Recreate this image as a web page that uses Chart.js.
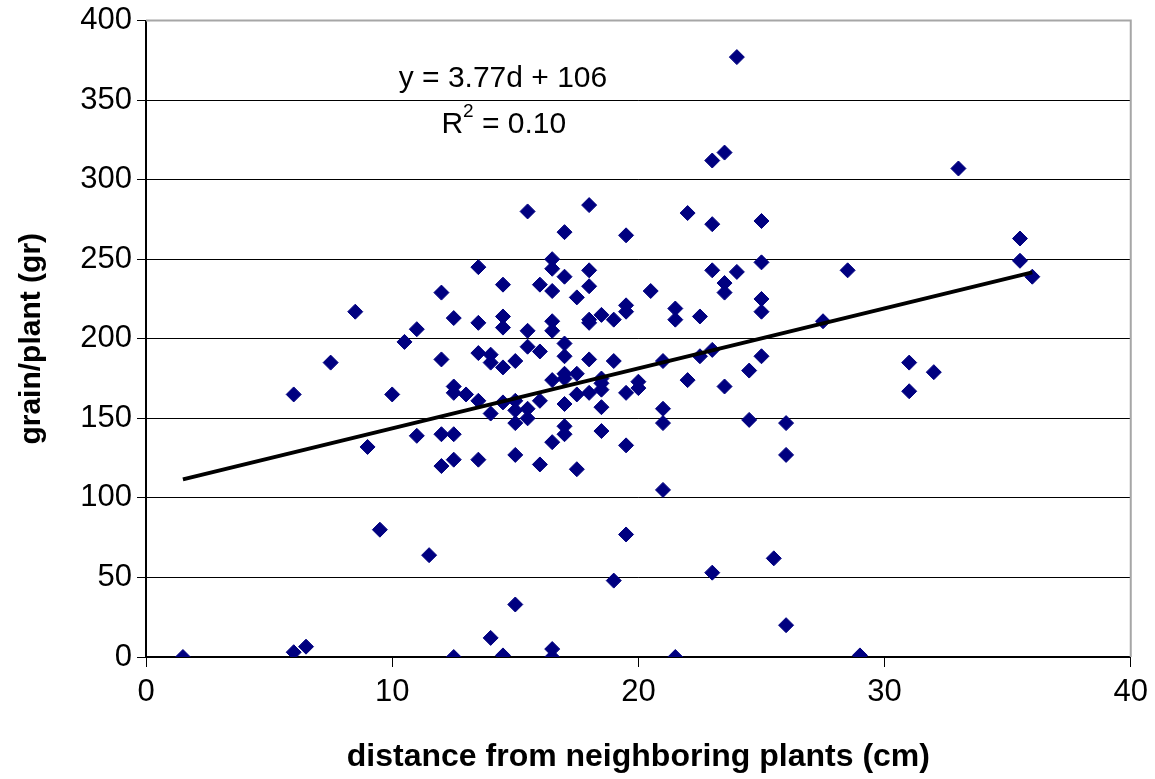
<!DOCTYPE html>
<html>
<head>
<meta charset="utf-8">
<title>grain/plant vs distance</title>
<script src="https://cdn.jsdelivr.net/npm/chart.js"></script>
<style>
    html, body { margin: 0; padding: 0; background: #ffffff; }
    canvas { display: block; }
</style>
</head>
<body>
<canvas id="scatterChart" width="1155" height="779"></canvas>
<script>
// Données : distance (cm) et grain/plant (gr), point par point
const distances = [
    1.5, 6, 6, 6.5, 7.5, 8.5, 9, 9.5, 10, 10.5,
    11, 11, 11.5, 12, 12, 12, 12,
    12.5, 12.5, 12.5, 12.5, 12.5, 12.5, 13,
    13.5, 13.5, 13.5, 13.5, 13.5, 14, 14, 14, 14,
    14.5, 14.5, 14.5, 14.5, 14.5, 14.5,
    15, 15, 15, 15, 15, 15, 15.5, 15.5, 15.5, 15.5, 15.5,
    16, 16, 16, 16,
    16.5, 16.5, 16.5, 16.5, 16.5, 16.5, 16.5, 16.5, 16.5,
    17, 17, 17, 17, 17, 17, 17, 17, 17,
    17.5, 17.5, 17.5, 17.5,
    18, 18, 18, 18, 18, 18, 18,
    18.5, 18.5, 18.5, 18.5, 18.5, 18.5,
    19, 19, 19, 19.5, 19.5, 19.5, 19.5, 19.5, 19.5,
    20, 20, 20.5, 21, 21, 21, 21, 21.5, 21.5, 21.5,
    22, 22, 22.5, 22.5, 23, 23, 23, 23, 23,
    23.5, 23.5, 23.5, 23.5, 24, 24, 24.5, 24.5,
    25, 25, 25, 25, 25, 25.5, 26, 26, 26,
    27.5, 28.5, 29, 31, 31, 32, 33, 35.5, 35.5, 36
];
const grains = [
    0, 3, 165, 6.5, 185, 217, 132, 80, 165, 198,
    206, 139, 64, 229, 187, 140, 120,
    213, 170, 166, 140, 124, 0, 165,
    245, 210, 191, 161, 124, 190, 185, 153, 12,
    234, 214, 207, 182, 160, 1,
    186, 161, 155, 147, 127, 33, 280, 205, 195, 156, 150,
    234, 192, 161, 121,
    250, 244, 230, 211, 205, 174, 135, 5, 0,
    267, 239, 197, 189, 178, 175, 159, 145, 140,
    226, 178, 165, 118,
    284, 243, 233, 212, 210, 187, 166,
    215, 175, 172, 168, 157, 142,
    212, 186, 48, 265, 221, 217, 166, 133, 77,
    173, 169, 230, 186, 156, 147, 105, 219, 212, 0,
    279, 174, 214, 189, 312, 272, 243, 193, 53,
    317, 235, 229, 170, 377, 242, 180, 149,
    274, 248, 225, 217, 189, 62, 147, 127, 20,
    211, 243, 1, 185, 167, 179, 307, 263, 249, 239
];

// Droite de tendance affichée sur le graphique
const trendSlope = 3.77;
const trendIntercept = 106;
const trendRange = [1.5, 36];
const equationText = 'y = 3.77d + 106';
const r2Value = ' = 0.10';

// Graduations des axes
const xTicks = [0, 10, 20, 30, 40];
const yTicks = [0, 50, 100, 150, 200, 250, 300, 350, 400];

const FONT = '"Liberation Sans", Arial, Helvetica, sans-serif';

// Construction des points pour Chart.js
const scatterPoints = distances.map((d, i) => ({ x: d, y: grains[i] }));
const trendPoints = trendRange.map(d => ({ x: d, y: trendSlope * d + trendIntercept }));

/**
 * Cadre gris (haut et droite) + texte de l'équation
 */
const framePlugin = {
    id: 'frame',
    beforeDatasetsDraw(chart) {
        const { ctx, chartArea: a } = chart;
        ctx.save();
        ctx.strokeStyle = '#a6a6a6';
        ctx.lineWidth = 2;
        ctx.beginPath();
        ctx.moveTo(a.left, a.top);
        ctx.lineTo(a.right, a.top);
        ctx.lineTo(a.right, a.bottom);
        ctx.stroke();
        ctx.restore();
    },
    afterDatasetsDraw(chart) {
        const { ctx, scales } = chart;
        const x = scales.x, y = scales.y;
        ctx.save();
        ctx.fillStyle = '#000';
        ctx.textBaseline = 'alphabetic';
        ctx.font = '30px ' + FONT;
        ctx.textAlign = 'center';
        ctx.fillText(equationText, x.getPixelForValue(14.5), y.getPixelForValue(358));

        // R² avec exposant
        ctx.textAlign = 'left';
        let px = x.getPixelForValue(12);
        const py = y.getPixelForValue(329);
        ctx.fillText('R', px, py);
        px += ctx.measureText('R').width;
        ctx.font = '19px ' + FONT;
        ctx.fillText('2', px, py - 16);
        px += ctx.measureText('2').width;
        ctx.font = '30px ' + FONT;
        ctx.fillText(r2Value, px, py);
        ctx.restore();
    }
};

const ctx = document.getElementById('scatterChart');
new Chart(ctx, {
    type: 'scatter',
    data: {
        datasets: [
            {
                label: 'grain/plant',
                data: scatterPoints,
                pointStyle: 'rectRot',
                pointRadius: 7.5,
                pointBackgroundColor: '#000080',
                pointBorderColor: '#000080',
                pointBorderWidth: 1,
                order: 2
            },
            {
                label: 'trend',
                type: 'line',
                data: trendPoints,
                borderColor: '#000',
                borderWidth: 4,
                pointRadius: 0,
                fill: false,
                order: 1
            }
        ]
    },
    options: {
        responsive: false,
        animation: false,
        devicePixelRatio: 1,
        layout: { padding: { top: 0, right: 24, bottom: 0, left: 0 } },
        plugins: {
            legend: { display: false },
            tooltip: { enabled: false }
        },
        scales: {
            x: {
                type: 'linear',
                min: 0,
                max: 40,
                afterBuildTicks: scale => { scale.ticks = xTicks.map(v => ({ value: v })); },
                afterFit: scale => { scale.height = 122; },
                grid: {
                    drawOnChartArea: false,
                    tickLength: 10,
                    tickColor: '#000',
                    tickWidth: 1
                },
                border: { color: '#000', width: 2 },
                ticks: {
                    color: '#000',
                    padding: 7,
                    maxRotation: 0,
                    font: { family: FONT, size: 31 }
                },
                title: {
                    display: true,
                    text: 'distance from neighboring plants (cm)',
                    color: '#000',
                    font: { family: FONT, size: 32, weight: 'bold' },
                    padding: { top: 0, bottom: 3 }
                }
            },
            y: {
                type: 'linear',
                min: 0,
                max: 400,
                afterBuildTicks: scale => { scale.ticks = yTicks.map(v => ({ value: v })); },
                afterFit: scale => { scale.width = 146; },
                grid: {
                    color: '#000',
                    lineWidth: 1,
                    tickLength: 9,
                    tickColor: '#000'
                },
                border: { color: '#000', width: 2 },
                ticks: {
                    color: '#000',
                    padding: 5,
                    font: { family: FONT, size: 31, lineHeight: 1.0 }
                },
                title: {
                    display: true,
                    text: 'grain/plant (gr)',
                    color: '#000',
                    font: { family: FONT, size: 30, weight: 'bold' },
                    padding: { top: 14, bottom: 0 }
                }
            }
        }
    },
    plugins: [framePlugin]
});
</script>
</body>
</html>
